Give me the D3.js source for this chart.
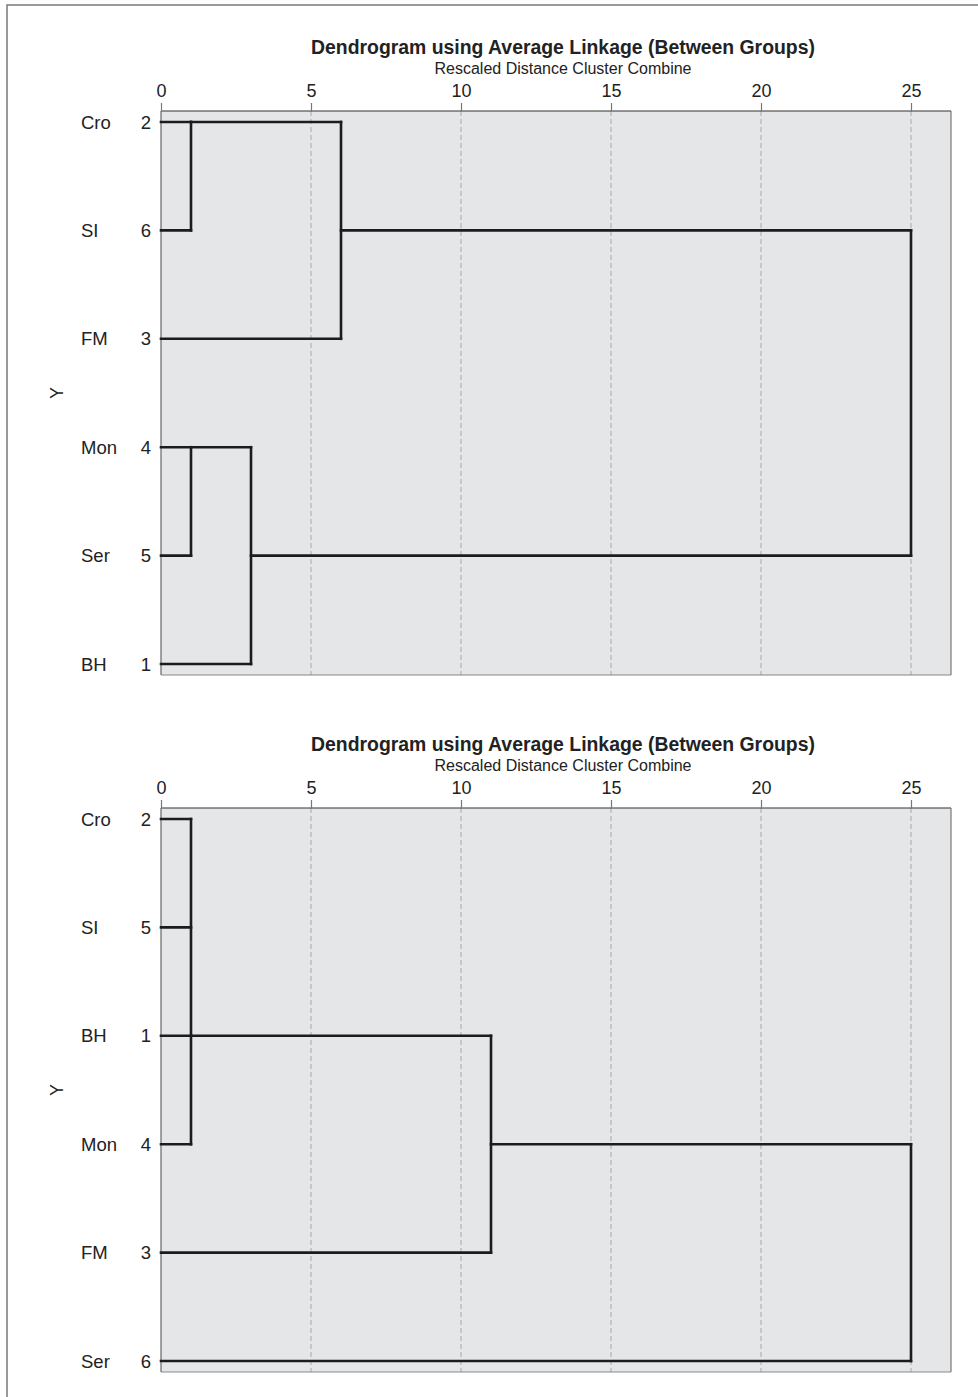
<!DOCTYPE html>
<html><head><meta charset="utf-8">
<script src="https://cdn.jsdelivr.net/npm/d3@7"></script>
<style>body{margin:0;background:#fff}svg{display:block}text{font-family:"Liberation Sans",Arial,sans-serif}</style>
</head><body>
<script>
// ---- data ----
const titleText = "Dendrogram using Average Linkage (Between Groups)";
const subtitleText = "Rescaled Distance Cluster Combine";
const xTicks = [0, 5, 10, 15, 20, 25];

const topLabels = ["Cro", "SI", "FM", "Mon", "Ser", "BH"];
const topNumbers = [2, 6, 3, 4, 5, 1];
// each merge: children (row index, start distance), merge distance, output row
const topMerges = [
  {children: [[0, 0], [1, 0]], dist: 1, out: 0},
  {children: [[0, 1], [2, 0]], dist: 6, out: 1},
  {children: [[3, 0], [4, 0]], dist: 1, out: 3},
  {children: [[3, 1], [5, 0]], dist: 3, out: 4},
  {children: [[1, 6], [4, 3]], dist: 25, out: null}
];

const bottomLabels = ["Cro", "SI", "BH", "Mon", "FM", "Ser"];
const bottomNumbers = [2, 5, 1, 4, 3, 6];
const bottomMerges = [
  {children: [[0, 0], [1, 0], [2, 0], [3, 0]], dist: 1, out: 2},
  {children: [[2, 1], [4, 0]], dist: 11, out: 3},
  {children: [[3, 11], [5, 0]], dist: 25, out: null}
];

// ---- drawing ----
const W = 978, H = 1397;
const svg = d3.select("body").append("svg").attr("width", W).attr("height", H);

// outer frame (left & top visible)
svg.append("rect").attr("x", 7).attr("y", 5).attr("width", W + 20).attr("height", H + 20)
  .attr("fill", "none").attr("stroke", "#7a7a7a").attr("stroke-width", 1.5);

function panel(offY, labels, numbers, merges) {
  const g = svg.append("g").attr("transform", `translate(0,${offY})`);
  const x = d3.scaleLinear().domain([0, 25]).range([161, 911]);
  const plotTop = 111, plotBottom = 675, plotRight = 951;
  const y = d3.scaleLinear().domain([0, labels.length - 1]).range([122, 664]);

  g.append("rect").attr("x", x(0)).attr("y", plotTop)
    .attr("width", plotRight - x(0)).attr("height", plotBottom - plotTop)
    .attr("fill", "#e5e6e8").attr("stroke", "none");

  // dashed grid
  g.selectAll("line.grid").data(xTicks.filter(d => d > 0)).join("line")
    .attr("class", "grid")
    .attr("x1", d => x(d)).attr("x2", d => x(d))
    .attr("y1", plotTop).attr("y2", plotBottom)
    .attr("stroke", "#a8a8a8").attr("stroke-width", 1).attr("stroke-dasharray", "5,3");

  // plot border
  g.append("line").attr("x1", x(0)).attr("x2", plotRight).attr("y1", plotTop).attr("y2", plotTop)
    .attr("stroke", "#333").attr("stroke-width", 1.2);
  g.append("line").attr("x1", x(0)).attr("x2", x(0)).attr("y1", plotTop).attr("y2", plotBottom)
    .attr("stroke", "#666").attr("stroke-width", 1.2);
  g.append("line").attr("x1", plotRight).attr("x2", plotRight).attr("y1", plotTop).attr("y2", plotBottom)
    .attr("stroke", "#777").attr("stroke-width", 1.2);
  g.append("line").attr("x1", x(0)).attr("x2", plotRight).attr("y1", plotBottom).attr("y2", plotBottom)
    .attr("stroke", "#888").attr("stroke-width", 1.2);

  // top axis
  const axis = d3.axisTop(x).tickValues(xTicks).tickSize(8).tickPadding(6);
  const ax = g.append("g").attr("transform", `translate(0,${plotTop})`).call(axis);
  ax.select(".domain").remove();
  ax.selectAll(".tick line").attr("stroke", "#777").attr("stroke-width", 1.2);
  ax.selectAll(".tick text").attr("font-size", 18).attr("fill", "#222")
    .attr("font-family", "'Liberation Sans', Arial, sans-serif");

  // titles
  g.append("text").attr("x", 563).attr("y", 54).attr("text-anchor", "middle")
    .attr("font-size", 19.4).attr("font-weight", "bold").attr("fill", "#222").text(titleText);
  g.append("text").attr("x", 563).attr("y", 74).attr("text-anchor", "middle")
    .attr("font-size", 16).attr("fill", "#222").text(subtitleText);

  // y label
  g.append("text").attr("transform", `translate(63,${(y(0) + y(labels.length - 1)) / 2}) rotate(-90)`)
    .attr("text-anchor", "middle").attr("font-size", 18).attr("fill", "#222").text("Y");

  // leaf labels
  g.selectAll("text.name").data(labels).join("text").attr("class", "name")
    .attr("x", 81).attr("y", (d, i) => y(i)).attr("dy", "0.36em")
    .attr("font-size", 18.5).attr("fill", "#222").text(d => d);
  g.selectAll("text.num").data(numbers).join("text").attr("class", "num")
    .attr("x", 151).attr("y", (d, i) => y(i)).attr("dy", "0.36em").attr("text-anchor", "end")
    .attr("font-size", 18.5).attr("fill", "#222").text(d => d);

  // dendrogram links
  const lines = g.append("g").attr("stroke", "#1c1c1c").attr("stroke-width", 2.6)
    .attr("fill", "none").attr("stroke-linecap", "square");
  merges.forEach(m => {
    m.children.forEach(([row, start]) => {
      lines.append("line").attr("x1", x(start)).attr("x2", x(m.dist))
        .attr("y1", y(row)).attr("y2", y(row));
    });
    const rows = m.children.map(c => c[0]);
    lines.append("line").attr("x1", x(m.dist)).attr("x2", x(m.dist))
      .attr("y1", y(d3.min(rows))).attr("y2", y(d3.max(rows)));
  });
}

panel(0, topLabels, topNumbers, topMerges);
panel(697, bottomLabels, bottomNumbers, bottomMerges);
</script>
</body></html>
